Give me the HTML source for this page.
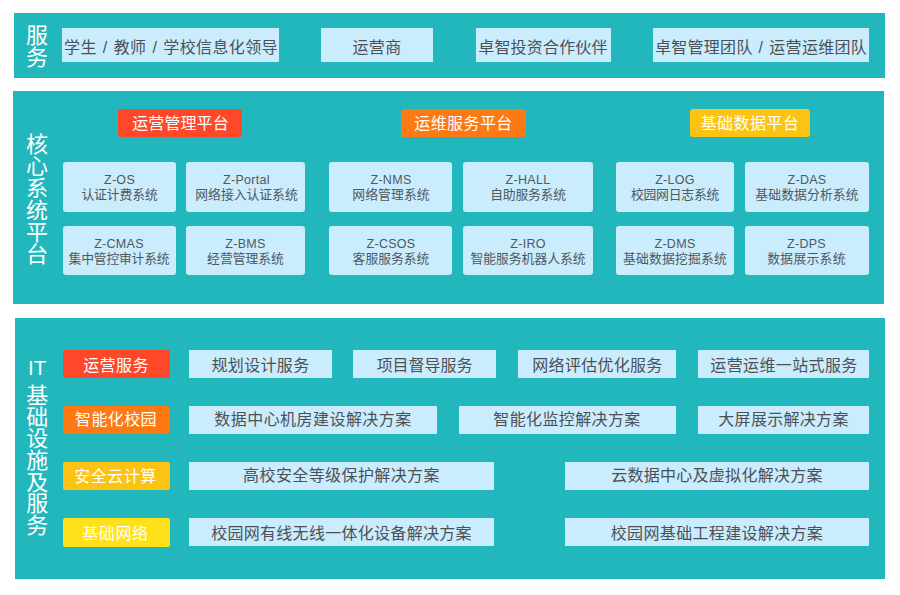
<!DOCTYPE html>
<html lang="zh-CN">
<head>
<meta charset="utf-8">
<title>卓智 平台架构</title>
<style>
html,body{margin:0;padding:0}
body{width:900px;height:595px;background:#fff;position:relative;overflow:hidden;font-family:"Liberation Sans","Noto Sans CJK SC",sans-serif}
section{position:absolute}
.box{position:absolute;overflow:hidden}
.tx{position:absolute;display:block;overflow:visible}
.tx text{font-family:"Liberation Sans","Noto Sans CJK SC",sans-serif}
.vt{position:absolute;margin:0;padding:0}
</style>
</head>
<body>
<section aria-label="服务" style="left:14px;top:13px;width:871px;height:65px;background:#22b7bc">
<h2 class="vt" style="left:12px;top:10px;width:22px;height:45px"><svg class="tx" style="left:-1px;top:-2px" width="24" height="52" viewBox="0 0 24 52" fill="#fff"><text x="1" y="21.66" font-size="22" font-weight="normal">服</text><text x="1" y="43.56" font-size="22" font-weight="normal">务</text></svg></h2>
<div class="box" style="left:48px;top:15px;width:217px;height:34px;background:#caecfc;"><svg class="tx" style="left:2px;top:9px" width="214" height="22" viewBox="0 0 214 22" fill="#4d5156"><text x="107" y="15.88" font-size="16" text-anchor="middle" letter-spacing="0.38" word-spacing="1.2">学生 / 教师 / 学校信息化领导</text></svg></div>
<div class="box" style="left:307px;top:15px;width:112px;height:34px;background:#caecfc;"><svg class="tx" style="left:30px;top:9px" width="52" height="22" viewBox="0 0 52 22" fill="#4d5156"><text x="26" y="15.88" font-size="16" text-anchor="middle" letter-spacing="0.38">运营商</text></svg></div>
<div class="box" style="left:462px;top:15px;width:135px;height:34px;background:#caecfc;"><svg class="tx" style="left:1px;top:9px" width="132" height="22" viewBox="0 0 132 22" fill="#4d5156"><text x="66" y="15.88" font-size="16" text-anchor="middle" letter-spacing="0.19">卓智投资合作伙伴</text></svg></div>
<div class="box" style="left:639px;top:15px;width:216px;height:34px;background:#caecfc;"><svg class="tx" style="left:1px;top:9px" width="214" height="22" viewBox="0 0 214 22" fill="#4d5156"><text x="107" y="15.88" font-size="16" text-anchor="middle" letter-spacing="0.3" word-spacing="1.2">卓智管理团队 / 运营运维团队</text></svg></div>
</section>
<section aria-label="核心系统平台" style="left:13px;top:91px;width:871px;height:213px;background:#22b7bc">
<h2 class="vt" style="left:13px;top:41px;width:22px;height:133px"><svg class="tx" style="left:-1px;top:-1px" width="24" height="139" viewBox="0 0 24 139" fill="#fff"><text x="1" y="21.16" font-size="22" font-weight="normal">核</text><text x="1" y="43.16" font-size="22" font-weight="normal">心</text><text x="1" y="65.16" font-size="22" font-weight="normal">系</text><text x="1" y="87.16" font-size="22" font-weight="normal">统</text><text x="1" y="109.16" font-size="22" font-weight="normal">平</text><text x="1" y="131.16" font-size="22" font-weight="normal">台</text></svg></h2>
<div class="box lab" style="left:105px;top:18px;width:124px;height:28px;background:#fe4829;border-radius:3px;"><svg class="tx" style="left:13px;top:4px" width="99" height="22" viewBox="0 0 99 22" fill="#fff"><text x="49.5" y="16.03" font-size="16" text-anchor="middle" letter-spacing="0.1">运营管理平台</text></svg></div>
<div class="box lab" style="left:388px;top:18px;width:125px;height:28px;background:#fd7914;border-radius:3px;"><svg class="tx" style="left:12px;top:4px" width="101" height="22" viewBox="0 0 101 22" fill="#fff"><text x="50.5" y="16.03" font-size="16" text-anchor="middle" letter-spacing="0.43">运维服务平台</text></svg></div>
<div class="box lab" style="left:677px;top:18px;width:120px;height:28px;background:#fdc313;border-radius:3px;"><svg class="tx" style="left:9px;top:4px" width="102" height="22" viewBox="0 0 102 22" fill="#fff"><text x="51" y="16.03" font-size="16" text-anchor="middle" letter-spacing="0.5">基础数据平台</text></svg></div>
<div class="box card" style="left:50px;top:71px;width:113px;height:50px;background:#caecfc;border-radius:3px;"><svg class="tx" style="left:17px;top:10px" width="79" height="33" viewBox="0 0 79 33" fill="#505860"><text x="39.5" y="12.31" font-size="12.5" text-anchor="middle" letter-spacing="0.3">Z-OS</text><text x="39.5" y="27.36" font-size="12.8" text-anchor="middle" letter-spacing="-0.1">认证计费系统</text></svg></div>
<div class="box card" style="left:173px;top:71px;width:119px;height:50px;background:#caecfc;border-radius:3px;"><svg class="tx" style="left:8px;top:10px" width="105" height="33" viewBox="0 0 105 33" fill="#505860"><text x="52.5" y="12.31" font-size="12.5" text-anchor="middle" letter-spacing="0.3">Z-Portal</text><text x="52.5" y="27.36" font-size="12.8" text-anchor="middle">网络接入认证系统</text></svg></div>
<div class="box card" style="left:316px;top:71px;width:123px;height:50px;background:#caecfc;border-radius:3px;"><svg class="tx" style="left:22px;top:10px" width="80" height="33" viewBox="0 0 80 33" fill="#505860"><text x="40" y="12.31" font-size="12.5" text-anchor="middle" letter-spacing="0.3">Z-NMS</text><text x="40" y="27.36" font-size="12.8" text-anchor="middle" letter-spacing="0.1">网络管理系统</text></svg></div>
<div class="box card" style="left:450px;top:71px;width:130px;height:50px;background:#caecfc;border-radius:3px;"><svg class="tx" style="left:26px;top:10px" width="78" height="33" viewBox="0 0 78 33" fill="#505860"><text x="39" y="12.31" font-size="12.5" text-anchor="middle" letter-spacing="0.3">Z-HALL</text><text x="39" y="27.36" font-size="12.8" text-anchor="middle" letter-spacing="-0.2">自助服务系统</text></svg></div>
<div class="box card" style="left:603px;top:71px;width:118px;height:50px;background:#caecfc;border-radius:3px;"><svg class="tx" style="left:13px;top:10px" width="92" height="33" viewBox="0 0 92 33" fill="#505860"><text x="46" y="12.31" font-size="12.5" text-anchor="middle" letter-spacing="0.3">Z-LOG</text><text x="46" y="27.36" font-size="12.8" text-anchor="middle" letter-spacing="-0.2">校园网日志系统</text></svg></div>
<div class="box card" style="left:732px;top:71px;width:124px;height:50px;background:#caecfc;border-radius:3px;"><svg class="tx" style="left:9px;top:10px" width="106" height="33" viewBox="0 0 106 33" fill="#505860"><text x="53" y="12.31" font-size="12.5" text-anchor="middle" letter-spacing="0.3">Z-DAS</text><text x="53" y="27.36" font-size="12.8" text-anchor="middle" letter-spacing="0.13">基础数据分析系统</text></svg></div>
<div class="box card" style="left:50px;top:135px;width:113px;height:49px;background:#caecfc;border-radius:3px;"><svg class="tx" style="left:4px;top:9px" width="104" height="33" viewBox="0 0 104 33" fill="#505860"><text x="52" y="12.66" font-size="12.5" text-anchor="middle" letter-spacing="0.3">Z-CMAS</text><text x="52" y="27.71" font-size="12.8" text-anchor="middle" letter-spacing="-0.2">集中管控审计系统</text></svg></div>
<div class="box card" style="left:173px;top:135px;width:119px;height:49px;background:#caecfc;border-radius:3px;"><svg class="tx" style="left:20px;top:9px" width="79" height="33" viewBox="0 0 79 33" fill="#505860"><text x="39.5" y="12.66" font-size="12.5" text-anchor="middle" letter-spacing="0.3">Z-BMS</text><text x="39.5" y="27.71" font-size="12.8" text-anchor="middle">经营管理系统</text></svg></div>
<div class="box card" style="left:316px;top:135px;width:123px;height:49px;background:#caecfc;border-radius:3px;"><svg class="tx" style="left:22px;top:9px" width="80" height="33" viewBox="0 0 80 33" fill="#505860"><text x="40" y="12.66" font-size="12.5" text-anchor="middle" letter-spacing="0.3">Z-CSOS</text><text x="40" y="27.71" font-size="12.8" text-anchor="middle">客服服务系统</text></svg></div>
<div class="box card" style="left:450px;top:135px;width:130px;height:49px;background:#caecfc;border-radius:3px;"><svg class="tx" style="left:6px;top:9px" width="118" height="33" viewBox="0 0 118 33" fill="#505860"><text x="59" y="12.66" font-size="12.5" text-anchor="middle" letter-spacing="0.3">Z-IRO</text><text x="59" y="27.71" font-size="12.8" text-anchor="middle">智能服务机器人系统</text></svg></div>
<div class="box card" style="left:603px;top:135px;width:118px;height:49px;background:#caecfc;border-radius:3px;"><svg class="tx" style="left:6px;top:9px" width="106" height="33" viewBox="0 0 106 33" fill="#505860"><text x="53" y="12.66" font-size="12.5" text-anchor="middle" letter-spacing="0.3">Z-DMS</text><text x="53" y="27.71" font-size="12.8" text-anchor="middle" letter-spacing="0.22">基础数据挖掘系统</text></svg></div>
<div class="box card" style="left:732px;top:135px;width:124px;height:49px;background:#caecfc;border-radius:3px;"><svg class="tx" style="left:21px;top:9px" width="81" height="33" viewBox="0 0 81 33" fill="#505860"><text x="40.5" y="12.66" font-size="12.5" text-anchor="middle" letter-spacing="0.3">Z-DPS</text><text x="40.5" y="27.71" font-size="12.8" text-anchor="middle" letter-spacing="0.3">数据展示系统</text></svg></div>
</section>
<section aria-label="IT基础设施及服务" style="left:15px;top:318px;width:870px;height:261px;background:#22b7bc">
<h2 class="vt" style="left:11px;top:38px;width:22px;height:180px"><svg class="tx" style="left:-1px;top:-1px" width="25" height="186" viewBox="0 0 25 186" fill="#fff"><text x="12.2" y="19.96" font-size="20.68" font-weight="normal" text-anchor="middle">IT</text><text x="1.2" y="48.26" font-size="22" font-weight="normal">基</text><text x="1.2" y="69.84" font-size="22" font-weight="normal">础</text><text x="1.2" y="91.42" font-size="22" font-weight="normal">设</text><text x="1.2" y="113" font-size="22" font-weight="normal">施</text><text x="1.2" y="134.58" font-size="22" font-weight="normal">及</text><text x="1.2" y="156.16" font-size="22" font-weight="normal">服</text><text x="1.2" y="177.74" font-size="22" font-weight="normal">务</text></svg></h2>
<div class="box lab" style="left:48px;top:32px;width:107px;height:28px;background:#fe4829;border-radius:2px;"><svg class="tx" style="left:19px;top:5px" width="68" height="23" viewBox="0 0 68 23" fill="#fff"><text x="34" y="16.38" font-size="16" text-anchor="middle" letter-spacing="0.4">运营服务</text></svg></div>
<div class="box lab" style="left:48px;top:88px;width:107px;height:28px;background:#fd7914;border-radius:2px;"><svg class="tx" style="left:11px;top:4px" width="84" height="22" viewBox="0 0 84 22" fill="#fff"><text x="42" y="15.48" font-size="16" text-anchor="middle" letter-spacing="0.4">智能化校园</text></svg></div>
<div class="box lab" style="left:48px;top:144px;width:107px;height:28px;background:#fdc313;border-radius:2px;"><svg class="tx" style="left:10px;top:4px" width="85" height="22" viewBox="0 0 85 22" fill="#fff"><text x="42.5" y="15.78" font-size="16" text-anchor="middle" letter-spacing="0.5">安全云计算</text></svg></div>
<div class="box lab" style="left:48px;top:200px;width:107px;height:29px;background:#fee118;border-radius:2px;"><svg class="tx" style="left:18px;top:5px" width="69" height="22" viewBox="0 0 69 22" fill="#fff"><text x="34.5" y="15.68" font-size="16" text-anchor="middle" letter-spacing="0.62">基础网络</text></svg></div>
<div class="box" style="left:174px;top:32px;width:143px;height:28px;background:#caecfc;"><svg class="tx" style="left:21px;top:5px" width="101" height="23" viewBox="0 0 101 23" fill="#4d5156"><text x="50.5" y="16.28" font-size="16" text-anchor="middle" letter-spacing="0.35">规划设计服务</text></svg></div>
<div class="box" style="left:338px;top:32px;width:143px;height:28px;background:#caecfc;"><svg class="tx" style="left:22px;top:5px" width="99" height="23" viewBox="0 0 99 23" fill="#4d5156"><text x="49.5" y="16.28" font-size="16" text-anchor="middle" letter-spacing="-0.05">项目督导服务</text></svg></div>
<div class="box" style="left:503px;top:32px;width:158px;height:28px;background:#caecfc;"><svg class="tx" style="left:13px;top:5px" width="133" height="23" viewBox="0 0 133 23" fill="#4d5156"><text x="66.5" y="16.28" font-size="16" text-anchor="middle" letter-spacing="0.29">网络评估优化服务</text></svg></div>
<div class="box" style="left:683px;top:32px;width:171px;height:28px;background:#caecfc;"><svg class="tx" style="left:11px;top:5px" width="150" height="23" viewBox="0 0 150 23" fill="#4d5156"><text x="75" y="16.28" font-size="16" text-anchor="middle" letter-spacing="0.37">运营运维一站式服务</text></svg></div>
<div class="box" style="left:174px;top:88px;width:248px;height:28px;background:#caecfc;"><svg class="tx" style="left:24px;top:4px" width="200" height="22" viewBox="0 0 200 22" fill="#4d5156"><text x="100" y="15.41" font-size="16" text-anchor="middle" letter-spacing="0.45">数据中心机房建设解决方案</text></svg></div>
<div class="box" style="left:444px;top:88px;width:217px;height:28px;background:#caecfc;"><svg class="tx" style="left:33px;top:4px" width="150" height="22" viewBox="0 0 150 22" fill="#4d5156"><text x="75" y="15.41" font-size="16" text-anchor="middle" letter-spacing="0.37">智能化监控解决方案</text></svg></div>
<div class="box" style="left:683px;top:88px;width:171px;height:28px;background:#caecfc;"><svg class="tx" style="left:19px;top:4px" width="133" height="22" viewBox="0 0 133 22" fill="#4d5156"><text x="66.5" y="15.41" font-size="16" text-anchor="middle" letter-spacing="0.3">大屏展示解决方案</text></svg></div>
<div class="box" style="left:174px;top:144px;width:305px;height:28px;background:#caecfc;"><svg class="tx" style="left:53px;top:4px" width="199" height="22" viewBox="0 0 199 22" fill="#4d5156"><text x="99.5" y="15.41" font-size="16" text-anchor="middle" letter-spacing="0.4">高校安全等级保护解决方案</text></svg></div>
<div class="box" style="left:550px;top:144px;width:304px;height:28px;background:#caecfc;"><svg class="tx" style="left:45px;top:4px" width="214" height="22" viewBox="0 0 214 22" fill="#4d5156"><text x="107" y="15.41" font-size="16" text-anchor="middle" letter-spacing="0.27">云数据中心及虚拟化解决方案</text></svg></div>
<div class="box" style="left:174px;top:200px;width:305px;height:28px;background:#caecfc;"><svg class="tx" style="left:21px;top:5px" width="263" height="23" viewBox="0 0 263 23" fill="#4d5156"><text x="131.5" y="16.31" font-size="16" text-anchor="middle" letter-spacing="0.29">校园网有线无线一体化设备解决方案</text></svg></div>
<div class="box" style="left:550px;top:200px;width:304px;height:28px;background:#caecfc;"><svg class="tx" style="left:44px;top:5px" width="216" height="23" viewBox="0 0 216 23" fill="#4d5156"><text x="108" y="16.31" font-size="16" text-anchor="middle" letter-spacing="0.34">校园网基础工程建设解决方案</text></svg></div>
</section>
</body>
</html>
